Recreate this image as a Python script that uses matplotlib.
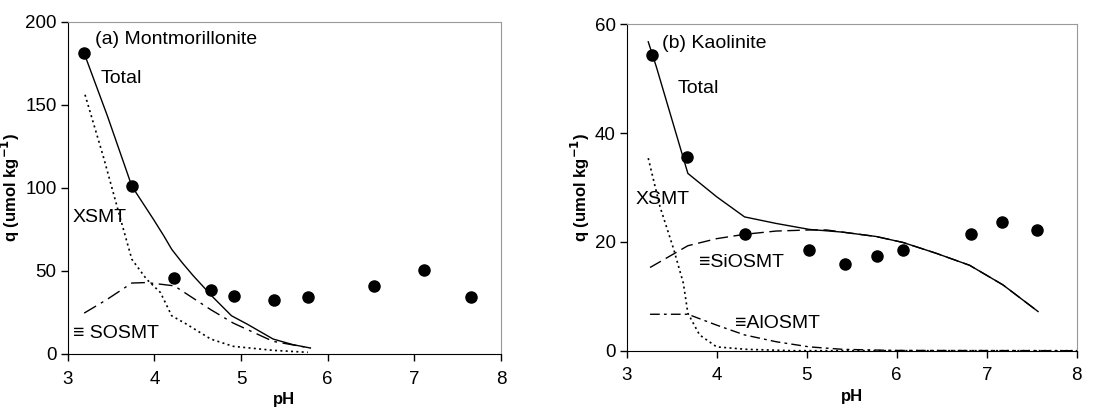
import matplotlib
matplotlib.use("Agg")
import matplotlib.pyplot as plt

plt.rcParams["font.family"] = ["Liberation Sans", "DejaVu Sans"]

# ---------------------------------------------------------------------------
# Data: (a) Montmorillonite
# ---------------------------------------------------------------------------
mont_ph_obs = [3.19, 3.74, 4.23, 4.65, 4.92, 5.38, 5.77, 6.53, 7.11, 7.65]
mont_q_obs  = [181, 101, 45.7, 38.7, 35.1, 32.7, 34.3, 41.1, 50.7, 34.3]

mont_ph_total = [3.19, 3.46, 3.74, 3.99, 4.11, 4.20, 4.32, 4.45, 4.68, 4.89, 5.07, 5.37, 5.60, 5.80]
mont_q_total  = [181, 143, 101, 81, 71, 63, 55, 47, 34, 23, 18, 9, 5.6, 3.6]

mont_ph_x = [3.20, 3.41, 3.60, 3.74, 3.91, 4.07, 4.20, 4.37, 4.65, 4.91, 5.37, 5.77]
mont_q_x  = [156, 119, 83, 57, 45, 37, 23, 18, 9, 4.6, 2.2, 1.0]

mont_ph_so = [3.19, 3.45, 3.74, 3.91, 4.23, 4.65, 4.91, 5.37, 5.80]
mont_q_so  = [24.6, 32.7, 42.7, 43, 41, 26.7, 18.6, 7.6, 3.6]

# ---------------------------------------------------------------------------
# Data: (b) Kaolinite
# ---------------------------------------------------------------------------
kao_ph_obs = [3.28, 3.67, 4.31, 5.03, 5.43, 5.78, 6.07, 6.82, 7.17, 7.56]
kao_q_obs  = [54.3, 35.7, 21.4, 18.5, 15.9, 17.5, 18.5, 21.4, 23.7, 22.2]

kao_ph_total = [3.24, 3.33, 3.68, 4.00, 4.31, 4.66, 5.03, 5.40, 5.77, 6.07, 6.44, 6.81, 7.18, 7.57]
kao_q_total  = [56.8, 52.2, 32.6, 28.3, 24.6, 23.4, 22.3, 21.8, 21.0, 19.9, 17.9, 15.7, 12.1, 7.2]

kao_ph_x = [3.24, 3.37, 3.52, 3.63, 3.68, 3.81, 4.00, 4.33, 4.85, 8.00]
kao_q_x  = [35.4, 26.5, 18.8, 12.4, 6.9, 2.9, 0.7, 0.25, 0.0, 0.0]

kao_ph_si = [3.26, 3.68, 4.00, 4.31, 4.66, 5.03, 5.22, 5.40, 5.77, 6.07, 6.44, 6.81, 7.18, 7.57]
kao_q_si  = [15.3, 19.3, 20.6, 21.4, 22.0, 22.2, 22.2, 21.8, 21.0, 19.9, 17.9, 15.7, 12.1, 7.2]

kao_ph_al = [3.26, 3.68, 4.00, 4.31, 4.66, 5.03, 5.40, 5.96, 8.00]
kao_q_al  = [6.7, 6.7, 4.7, 2.9, 1.65, 0.7, 0.25, 0.05, 0.0]

# ---------------------------------------------------------------------------
# Plot
# ---------------------------------------------------------------------------
fig = plt.figure(figsize=(11.17, 4.12), dpi=100)
ax1 = fig.add_axes([0.0606, 0.1408, 0.388, 0.8066])
ax2 = fig.add_axes([0.561, 0.1488, 0.403, 0.792])

lw = 1.0
dash_dot_long = (0, (10, 4, 2, 4))
dash_long = (0, (9, 4))
dash_dot = (0, (7, 3, 2, 3))
dotted = (0, (1.2, 2.0))
TXT = 14
YLABEL = "q (umol kg$^{\\mathbf{-1}}$)"


def style(ax, ymax, yticks):
    ax.set_xlim(3, 8)
    ax.set_ylim(0, ymax)
    ax.set_xticks([3, 4, 5, 6, 7, 8])
    ax.set_yticks(yticks)
    ax.tick_params(direction="out", length=5, width=1, labelsize=13.5)
    ax.tick_params(axis="x", pad=7)
    ax.tick_params(axis="y", pad=3)
    for s in ["top", "right"]:
        ax.spines[s].set_color("#999999")
    for s in ["left", "bottom"]:
        ax.spines[s].set_color("black")
    ax.set_xlabel("pH", fontsize=12, fontweight="bold", labelpad=3)
    ax.set_ylabel(YLABEL, fontsize=12, fontweight="bold", labelpad=2)


# (a) Montmorillonite
ax1.plot(mont_ph_total, mont_q_total, color="black", lw=lw)
ax1.plot(mont_ph_x, mont_q_x, color="black", lw=1.2, linestyle=dotted)
ax1.plot(mont_ph_so, mont_q_so, color="black", lw=lw, linestyle=dash_dot_long)
ax1.plot(mont_ph_obs, mont_q_obs, "o", color="black", ms=8)
style(ax1, 200, [0, 50, 100, 150, 200])
ax1.text(3.31, 189, "(a) Montmorillonite", fontsize=TXT, va="center")
ax1.text(3.38, 166, "Total", fontsize=TXT, va="center")
ax1.text(3.06, 82, "XSMT", fontsize=TXT, va="center")
ax1.text(3.06, 12.6, "\u2261 SOSMT", fontsize=TXT, va="center")

# (b) Kaolinite
ax2.plot(kao_ph_total, kao_q_total, color="black", lw=lw)
ax2.plot(kao_ph_x, kao_q_x, color="black", lw=1.2, linestyle=dotted)
ax2.plot(kao_ph_si, kao_q_si, color="black", lw=lw, linestyle=dash_long)
ax2.plot(kao_ph_al, kao_q_al, color="black", lw=lw, linestyle=dash_dot)
ax2.plot(kao_ph_obs, kao_q_obs, "o", color="black", ms=8)
style(ax2, 60, [0, 20, 40, 60])
ax2.text(3.39, 56.5, "(b) Kaolinite", fontsize=TXT, va="center")
ax2.text(3.57, 48.2, "Total", fontsize=TXT, va="center")
ax2.text(3.10, 27.8, "XSMT", fontsize=TXT, va="center")
ax2.text(3.80, 16.2, "\u2261SiOSMT", fontsize=TXT, va="center")
ax2.text(4.20, 5.0, "\u2261AlOSMT", fontsize=TXT, va="center")

fig.savefig("out.png", dpi=100)
